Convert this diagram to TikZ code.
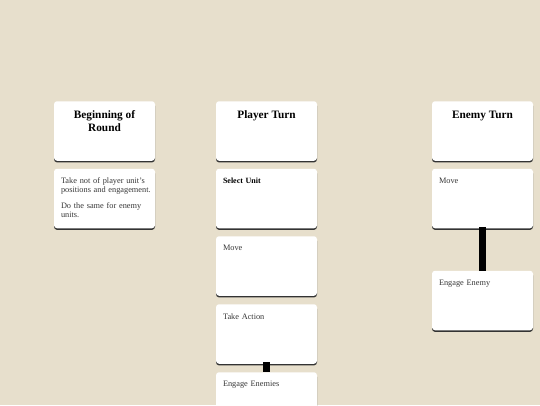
\documentclass[tikz,border=0pt]{standalone}
\usepackage{fontspec}
\setmainfont{Liberation Serif}
\usetikzlibrary{shadows}
\definecolor{bg}{RGB}{231,223,204}
\definecolor{bodytxt}{RGB}{55,55,55}
\tikzset{
  card/.style={rectangle, rounded corners=3pt, fill=white, minimum width=101pt, minimum height=59.5pt, inner sep=0pt,
    drop shadow={shadow xshift=0pt, shadow yshift=-1.6pt, fill=black!80, opacity=1}},
  head/.style={font=\bfseries\fontsize{11.3}{13}\selectfont, align=center, inner sep=0pt, text=black},
  body/.style={font=\fontsize{8.3}{8.4}\selectfont, align=left, inner sep=0pt, text=bodytxt, text width=92pt},
  conn/.style={line width=6.5pt, black}
}
\begin{document}
\begin{tikzpicture}[x=1pt,y=-1pt]
\fill[bg] (0,0) rectangle (540,405);
\useasboundingbox (0,0) rectangle (540,405);
\begin{scope}
\clip (0,0) rectangle (540,405);
% column 1
\node[card] (bh) at (104.5,131) {};
\node[card] (bt) at (104.5,198.5) {};
% column 2
\node[card] (ph) at (266.5,131) {};
\node[card] (ps) at (266.5,198.5) {};
\node[card] (pm) at (266.5,266) {};
\node[card] (pa) at (266.5,334) {};
\node[card] (pe) at (266.5,402) {};
% column 3
\node[card] (eh) at (482.5,131) {};
\node[card] (em) at (482.5,198.5) {};
\node[card] (ee) at (482.5,300.5) {};
% connectors
\draw[conn] ([yshift=1.6pt]pa.south) -- (pe.north);
\draw[conn] ([yshift=1.6pt]em.south) -- (ee.north);
% headings
\node[head, anchor=north] (bht) at ([yshift=-9.5pt]bh.north) {Beginning of\\Round};
\node[head, anchor=north] (pht) at ([yshift=-9.5pt]ph.north) {Player Turn};
\node[head, anchor=north] (eht) at ([yshift=-9.5pt]eh.north) {Enemy Turn};
% body texts
\node[body, anchor=north west] (btt) at ([xshift=7pt,yshift=-9pt]bt.north west) {Take not of player unit's\\positions and engagement.\\[8.4pt]Do the same for enemy\\units.};
\node[body, anchor=north west, font=\bfseries\fontsize{8}{8.4}\selectfont, text=black] (pst) at ([xshift=7pt,yshift=-9pt]ps.north west) {Select Unit};
\node[body, anchor=north west] (pmt) at ([xshift=7pt,yshift=-9pt]pm.north west) {Move};
\node[body, anchor=north west] (pat) at ([xshift=7pt,yshift=-9pt]pa.north west) {Take Action};
\node[body, anchor=north west] (pet) at ([xshift=7pt,yshift=-9pt]pe.north west) {Engage Enemies};
\node[body, anchor=north west] (emt) at ([xshift=7pt,yshift=-9pt]em.north west) {Move};
\node[body, anchor=north west] (eet) at ([xshift=7pt,yshift=-9pt]ee.north west) {Engage Enemy};
\end{scope}
\end{tikzpicture}
\end{document}
